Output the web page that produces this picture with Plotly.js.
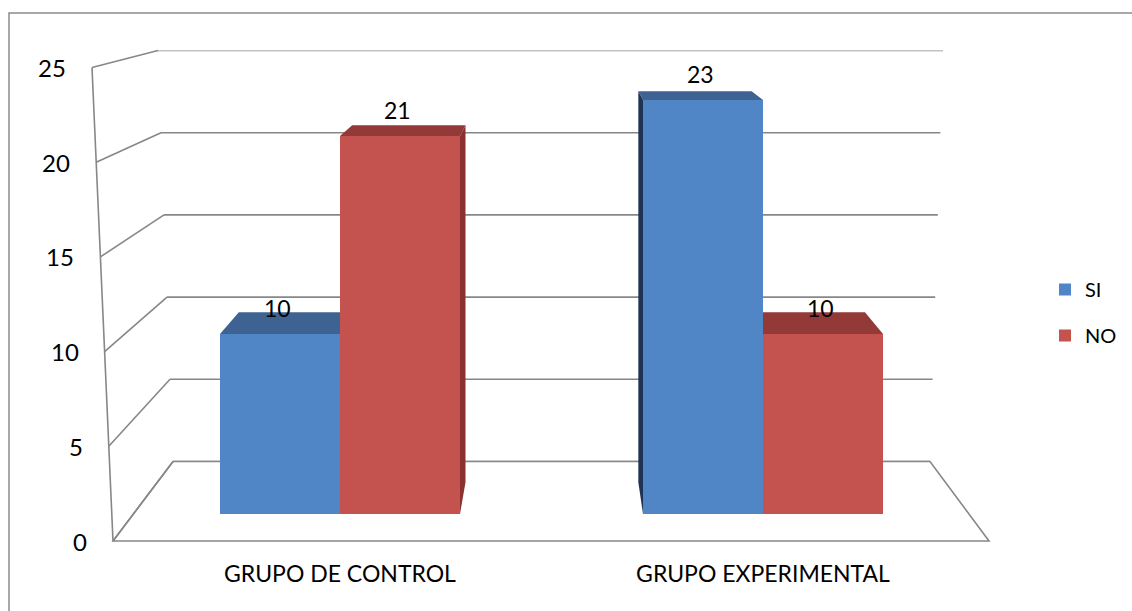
<!DOCTYPE html>
<html>
<head>
<meta charset="utf-8">
<script src="https://cdn.plot.ly/plotly-3.0.1.min.js"></script>
<style>
  html, body { margin: 0; padding: 0; background: #ffffff; }
  #chart { width: 1132px; height: 611px; }
</style>
</head>
<body>
<div id="chart"></div>
<script>
// ---- data ----
const categories = ['GRUPO DE CONTROL', 'GRUPO EXPERIMENTAL'];
const seriesNames = ['SI', 'NO'];
const siValues = [10, 23];
const noValues = [21, 10];
const yTicks = [0, 5, 10, 15, 20, 25];

// ---- page geometry (pixels) ----
const W = 1132, H = 611;
const px = x => x / W;            // pixel x -> paper
const py = y => (H - y) / H;      // pixel y -> paper

const FONT = 'Lato, "Open Sans", sans-serif';
const GRID = '#878787';

// bar frame: one x unit between group centres, bars sit on the floor
const barFrame = { left: 113, right: 989, bottom: 514, top: 64, c0: 340, c1: 763 };
const unitPx = barFrame.c1 - barFrame.c0;
const xRange = [(barFrame.left - barFrame.c0) / unitPx, 1 + (barFrame.right - barFrame.c1) / unitPx];
const yMax = 25;
const barWidth = 120 / unitPx;

// 3-D depth: faces recede toward a vanishing point (in bar-axis units)
const depth = 0.0556;
const vanX = (559 - barFrame.c0) / unitPx;
const vanY = (barFrame.bottom + 58) / ((barFrame.bottom - barFrame.top) / yMax);

// slanted front value axis and back wall (pixel positions of value 0 and 25)
const frontAxis = { y0: 541, y25: 67.5, x0: 113, x25: 92 };
const backWall = { y0: 461.5, y25: 50.5, xl0: 173, xl25: 158, xr0: 930, xr25: 943 };
const floorFrontRight = 989;

const lerp = (a, b, t) => a + (b - a) * t;
const frontX = v => lerp(frontAxis.x0, frontAxis.x25, v / yMax);
const frontY = v => lerp(frontAxis.y0, frontAxis.y25, v / yMax);
const backLX = v => lerp(backWall.xl0, backWall.xl25, v / yMax);
const backRX = v => lerp(backWall.xr0, backWall.xr25, v / yMax);
const backY = v => lerp(backWall.y0, backWall.y25, v / yMax);

const series = [
  { name: seriesNames[0], values: siValues, offset: -barWidth,
    front: '#5086C6', top: '#3E6291', side: '#1F3452' },
  { name: seriesNames[1], values: noValues, offset: 0,
    front: '#C4524F', top: '#933A38', side: '#8A3230' }
];

const shapes = [];
const line = (color, width) => ({ color: color, width: width });

// chart area border (left and top edges)
shapes.push({ type: 'path', xref: 'paper', yref: 'paper', layer: 'below',
  path: `M ${px(9)},${py(H + 5)} L ${px(9)},${py(13)} L ${px(W + 5)},${py(13)}`,
  line: line('#8c8c8c', 1.5) });

// floor outline
shapes.push({ type: 'path', xref: 'paper', yref: 'paper', layer: 'below',
  path: `M ${px(frontX(0))},${py(frontY(0))} L ${px(backLX(0))},${py(backY(0))} ` +
        `L ${px(backRX(0))},${py(backY(0))} L ${px(floorFrontRight)},${py(frontY(0))} Z`,
  line: line(GRID, 1.6) });

// back-wall gridlines and side-wall diagonals at every tick
yTicks.forEach(v => {
  shapes.push({ type: 'line', xref: 'paper', yref: 'y2', layer: 'below',
    x0: px(backLX(v)), x1: px(backRX(v)), y0: v, y1: v, line: line(GRID, 1.6) });
  shapes.push({ type: 'line', xref: 'paper', yref: 'paper', layer: 'below',
    x0: px(frontX(v)), y0: py(frontY(v)), x1: px(backLX(v)), y1: py(backY(v)),
    line: line(GRID, 1.6) });
});

// front value axis line
shapes.push({ type: 'line', xref: 'paper', yref: 'paper', layer: 'below',
  x0: px(frontX(0)), y0: py(frontY(0)), x1: px(frontX(yMax)), y1: py(frontY(yMax)),
  line: line(GRID, 1.6) });

// top and side faces of each bar (front faces are the bar traces)
const recede = (x, y) => [x + depth * (vanX - x), y + depth * (vanY - y)];
const poly = pts => 'M ' + pts.map(p => p[0] + ',' + p[1]).join(' L ') + ' Z';

series.forEach(s => {
  s.values.forEach((v, i) => {
    const x0 = i + s.offset, x1 = x0 + barWidth;
    const topFace = [[x0, v], [x1, v], recede(x1, v), recede(x0, v)];
    shapes.push({ type: 'path', xref: 'x', yref: 'y', layer: 'below',
      path: poly(topFace), fillcolor: s.top, line: { width: 0 } });
    const edge = x1 < vanX ? x1 : (x0 > vanX ? x0 : null);
    if (edge !== null) {
      const sideFace = [[edge, 0], [edge, v], recede(edge, v), recede(edge, 0)];
      shapes.push({ type: 'path', xref: 'x', yref: 'y', layer: 'below',
        path: poly(sideFace), fillcolor: s.side, line: { width: 0 } });
    }
  });
});

// value labels above the bars, and value-axis labels along the slanted axis
const annotations = [];
series.forEach(s => {
  s.values.forEach((v, i) => {
    annotations.push({ xref: 'x', yref: 'y', x: i + s.offset + barWidth / 2, y: v,
      text: String(v), showarrow: false, xanchor: 'center', yanchor: 'middle',
      xshift: -3, yshift: 26, font: { family: FONT, size: 23, color: '#000' } });
  });
});
yTicks.forEach(v => {
  annotations.push({ xref: 'paper', yref: 'y3', x: px(frontX(v) - 24), y: v,
    text: String(v), showarrow: false, xanchor: 'right', yanchor: 'middle',
    font: { family: FONT, size: 24, color: '#000' } });
});

const traces = series.map((s, k) => ({
  type: 'bar', name: s.name, x: categories.map((c, i) => i), y: s.values,
  offset: s.offset, width: barWidth, legendgroup: 'g' + k,
  marker: { color: s.front, line: { width: 0 } }, hoverinfo: 'skip'
}));

const hidden = { visible: false, fixedrange: true };
const layout = {
  width: W, height: H,
  margin: { l: 0, r: 0, t: 0, b: 0 },
  paper_bgcolor: '#ffffff', plot_bgcolor: 'rgba(0,0,0,0)',
  font: { family: FONT, color: '#000' },
  barmode: 'overlay',
  showlegend: true,
  legend: { x: px(1045), y: py(270), xanchor: 'left', yanchor: 'top',
    font: { family: FONT, size: 20, color: '#000' }, tracegroupgap: 17,
    bgcolor: 'rgba(0,0,0,0)', itemclick: false },
  xaxis: { domain: [px(barFrame.left), px(barFrame.right)], range: xRange,
    tickvals: categories.map((c, i) => i), ticktext: categories,
    ticks: 'outside', ticklen: 39, tickcolor: 'rgba(0,0,0,0)',
    tickfont: { family: FONT, size: 23, color: '#000' },
    showgrid: false, zeroline: false, showline: false, fixedrange: true },
  yaxis: { domain: [py(barFrame.bottom), py(barFrame.top)], range: [0, yMax],
    visible: false, fixedrange: true },
  xaxis2: Object.assign({ anchor: 'y2', domain: [0, 1], range: [0, 1] }, hidden),
  yaxis2: Object.assign({ anchor: 'x2', domain: [py(backWall.y0), py(backWall.y25)], range: [0, yMax] }, hidden),
  xaxis3: Object.assign({ anchor: 'y3', domain: [0, 1], range: [0, 1] }, hidden),
  yaxis3: Object.assign({ anchor: 'x3', domain: [py(frontAxis.y0), py(frontAxis.y25)], range: [0, yMax] }, hidden),
  shapes: shapes,
  annotations: annotations
};

Plotly.newPlot('chart', traces, layout, { displayModeBar: false, staticPlot: true });
</script>
</body>
</html>
